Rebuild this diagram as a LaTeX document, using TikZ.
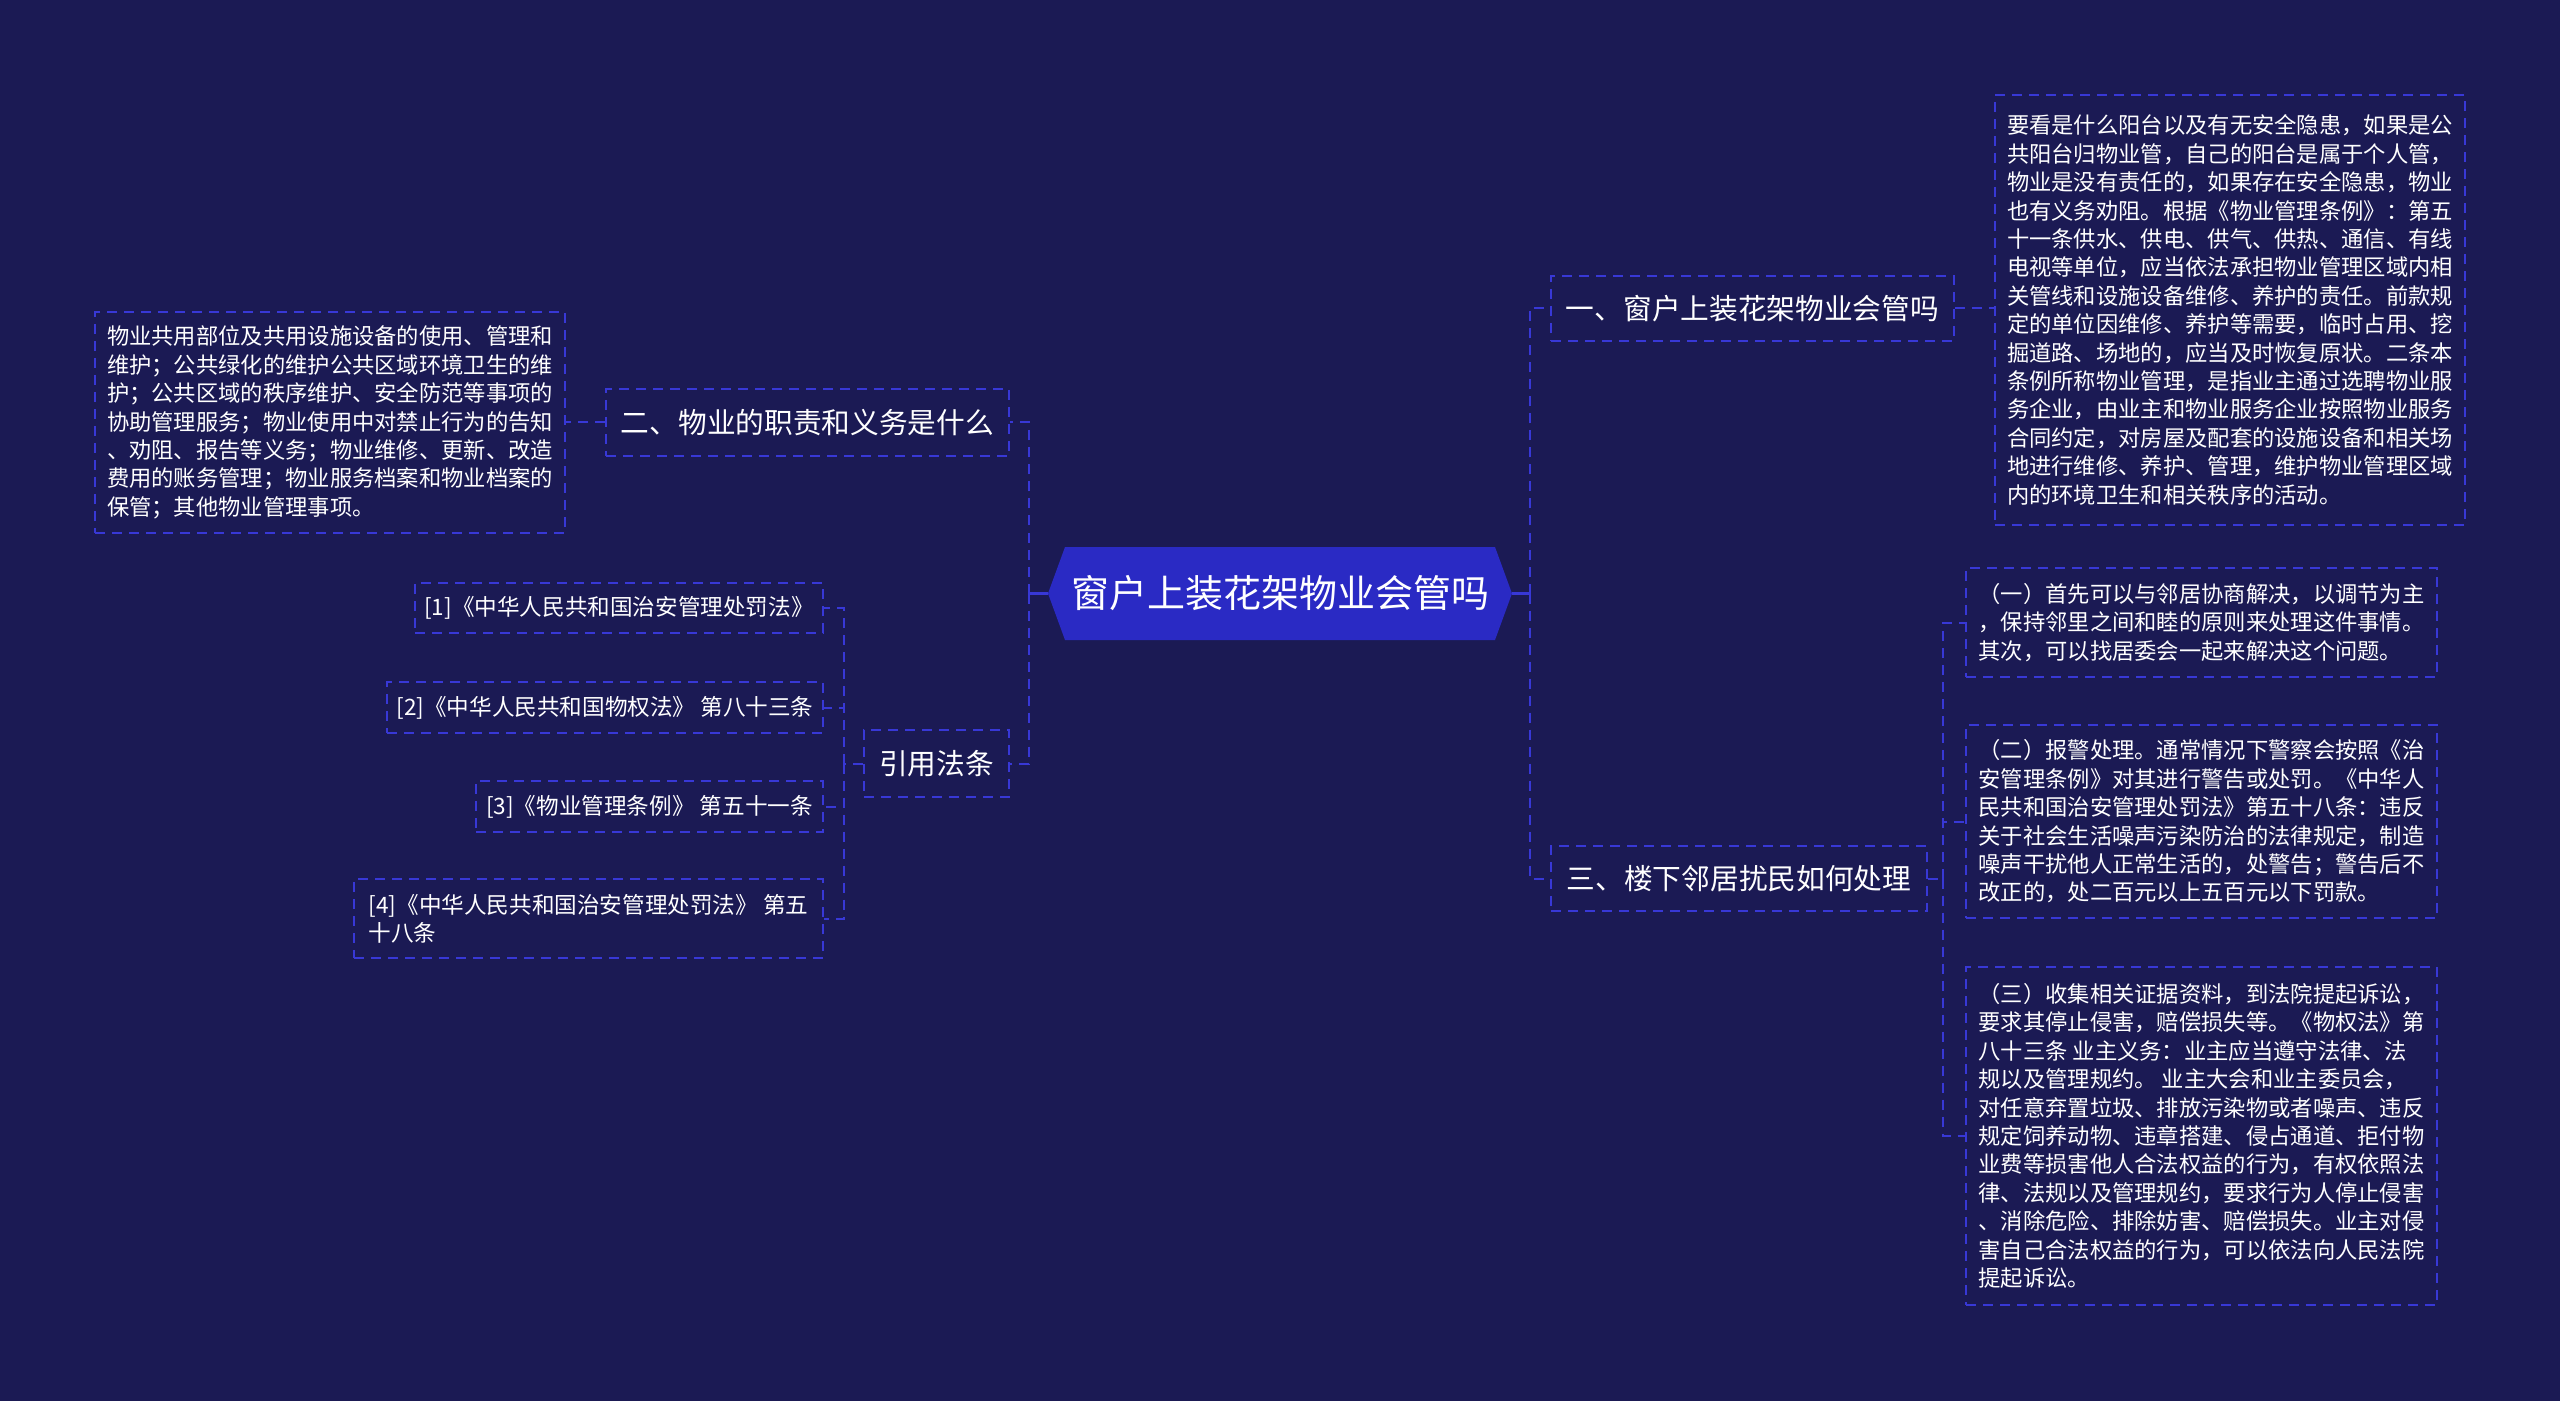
\documentclass[tikz,border=0pt]{standalone}
\usepackage{fontspec}
\setmainfont{Noto Sans CJK SC}
\definecolor{bgc}{RGB}{27,26,84}
\definecolor{rootc}{RGB}{42,42,196}
\definecolor{linec}{RGB}{56,56,214}
\begin{document}
\begin{tikzpicture}[x=0.5pt,y=-0.5pt,
  box/.style={draw=linec, dash pattern=on 5pt off 3.5pt, line width=0.8pt, text=white, inner sep=0pt, align=left},
  txt/.style={box, font=\fontsize{11.15pt}{14.2pt}\selectfont},
  lvl/.style={box, font=\fontsize{14.35pt}{17pt}\selectfont},
  citebox/.style={box, font=\fontsize{11.3pt}{14pt}\selectfont},
  conn/.style={draw=linec, line width=1pt, dash pattern=on 5pt off 3.5pt},
  stub/.style={draw=linec, line width=1.2pt}]
\useasboundingbox (0,0) rectangle (2560,1401);
\fill[bgc] (0,0) rectangle (2560,1401);
% root hexagon
\fill[rootc] (1048,593.5) -- (1065,547) -- (1495,547) -- (1512,593.5) -- (1495,640) -- (1065,640) -- cycle;
\node[text=white, minimum width=232pt, minimum height=46.5pt, inner sep=0pt, font=\fontsize{19pt}{22pt}\selectfont] (root) at (1280,593.5) {窗户上装花架物业会管吗};
% level 1
\node[lvl, minimum width=201.5pt, minimum height=32.5pt] (N1) at (1752.5,308.5) {一、窗户上装花架物业会管吗};
\node[lvl, minimum width=188pt, minimum height=32.5pt] (N3) at (1739,878.5) {三、楼下邻居扰民如何处理};
\node[lvl, minimum width=201.5pt, minimum height=33.5pt] (N2) at (807.5,422.5) {二、物业的职责和义务是什么};
\node[lvl, minimum width=72.5pt, minimum height=33.5pt] (Cite) at (936.5,763.5) {引用法条};
% citations
\node[citebox, minimum width=204pt, minimum height=25pt] (C1) at (619,608) {[1]《中华人民共和国治安管理处罚法》};
\node[citebox, minimum width=218pt, minimum height=25.5pt] (C2) at (605,707.5) {[2]《中华人民共和国物权法》 第八十三条};
\node[citebox, minimum width=173.5pt, minimum height=25.5pt] (C3) at (649.5,806.5) {[3]《物业管理条例》 第五十一条};
\node[citebox, minimum width=234.5pt, minimum height=39.5pt] (C4) at (588.5,918.5) {[4]《中华人民共和国治安管理处罚法》 第五\\十八条};
% text boxes
\node[txt, minimum width=235pt, minimum height=110.5pt] (L1) at (330,422.5) {物业共用部位及共用设施设备的使用、管理和\\维护；公共绿化的维护公共区域环境卫生的维\\护；公共区域的秩序维护、安全防范等事项的\\协助管理服务；物业使用中对禁止行为的告知\\、劝阻、报告等义务；物业维修、更新、改造\\费用的账务管理；物业服务档案和物业档案的\\保管；其他物业管理事项。};
\node[txt, minimum width=235pt, minimum height=215pt] (R1) at (2230,310) {要看是什么阳台以及有无安全隐患，如果是公\\共阳台归物业管，自己的阳台是属于个人管，\\物业是没有责任的，如果存在安全隐患，物业\\也有义务劝阻。根据《物业管理条例》：第五\\十一条供水、供电、供气、供热、通信、有线\\电视等单位，应当依法承担物业管理区域内相\\关管线和设施设备维修、养护的责任。前款规\\定的单位因维修、养护等需要，临时占用、挖\\掘道路、场地的，应当及时恢复原状。二条本\\条例所称物业管理，是指业主通过选聘物业服\\务企业，由业主和物业服务企业按照物业服务\\合同约定，对房屋及配套的设施设备和相关场\\地进行维修、养护、管理，维护物业管理区域\\内的环境卫生和相关秩序的活动。};
\node[txt, minimum width=235.5pt, minimum height=54.5pt] (T1) at (2201.5,622.5) {（一）首先可以与邻居协商解决，以调节为主\\，保持邻里之间和睦的原则来处理这件事情。\\其次，可以找居委会一起来解决这个问题。};
\node[txt, minimum width=235.5pt, minimum height=96.5pt] (T2) at (2201.5,821.5) {（二）报警处理。通常情况下警察会按照《治\\安管理条例》对其进行警告或处罚。《中华人\\民共和国治安管理处罚法》第五十八条：违反\\关于社会生活噪声污染防治的法律规定，制造\\噪声干扰他人正常生活的，处警告；警告后不\\改正的，处二百元以上五百元以下罚款。};
\node[txt, minimum width=235.5pt, minimum height=169pt] (T3) at (2201.5,1136) {（三）收集相关证据资料，到法院提起诉讼，\\要求其停止侵害，赔偿损失等。《物权法》第\\八十三条 业主义务：业主应当遵守法律、法\\规以及管理规约。 业主大会和业主委员会，\\对任意弃置垃圾、排放污染物或者噪声、违反\\规定饲养动物、违章搭建、侵占通道、拒付物\\业费等损害他人合法权益的行为，有权依照法\\律、法规以及管理规约，要求行为人停止侵害\\、消除危险、排除妨害、赔偿损失。业主对侵\\害自己合法权益的行为，可以依法向人民法院\\提起诉讼。};
% bus coordinates
\coordinate (bL) at (1029,593.5);
\coordinate (bR) at (1530,593.5);
\coordinate (bC) at (844,763.5);
\coordinate (bT) at (1943,878.5);
% connectors
\draw[stub] (root.west) -- (bL);
\draw[conn] (bL) |- (N2.east);
\draw[conn] (bL) |- (Cite.east);
\draw[stub] (root.east) -- (bR);
\draw[conn] (bR) |- (N1.west);
\draw[conn] (bR) |- (N3.west);
\draw[conn] (N1.east) -- (N1.east -| R1.west);
\draw[conn] (N2.west) -- (L1.east);
\draw[conn] (Cite.west) -- (bC);
\draw[conn] (bC) |- (C1.east);
\draw[conn] (bC) |- (C2.east);
\draw[conn] (bC) |- (C3.east);
\draw[conn] (bC) |- (C4.east);
\draw[conn] (N3.east) -- (bT);
\draw[conn] (bT) |- (T1.west);
\draw[conn] (bT) |- (T2.west);
\draw[conn] (bT) |- (T3.west);
\end{tikzpicture}
\end{document}
